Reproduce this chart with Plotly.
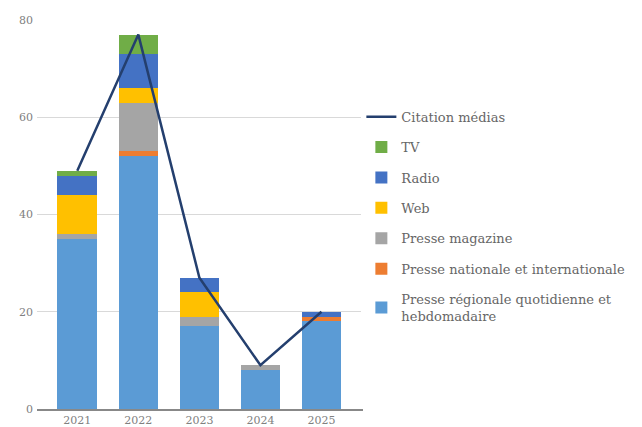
import plotly.graph_objects as go

years = ["2021", "2022", "2023", "2024", "2025"]
presse_regionale = [35, 52, 17, 8, 18]
presse_nationale = [0, 1, 0, 0, 1]
presse_magazine = [1, 10, 2, 1, 0]
web = [8, 3, 5, 0, 0]
radio = [4, 7, 3, 0, 1]
tv = [1, 4, 0, 0, 0]
citation_medias = [49, 77, 27, 9, 20]

series = [
    ("Presse régionale quotidienne et<br>hebdomadaire", presse_regionale, "#5B9BD5"),
    ("Presse nationale et internationale", presse_nationale, "#ED7D31"),
    ("Presse magazine", presse_magazine, "#A5A5A5"),
    ("Web", web, "#FFC000"),
    ("Radio", radio, "#4472C4"),
    ("TV", tv, "#70AD47"),
]

fig = go.Figure()
n = len(series)
for i, (name, vals, col) in enumerate(series):
    fig.add_trace(go.Bar(x=years, y=vals, name=name, marker_color=col,
                         marker_line_width=0, legendgroup=f"g{i}",
                         legendrank=n + 1 - i))
fig.add_trace(go.Scatter(x=years, y=citation_medias, name="Citation médias",
                         mode="lines", line=dict(color="#243F6E", width=2.5),
                         legendgroup="line", legendrank=1))

fig.update_layout(
    width=634, height=419,
    barmode="stack", bargap=0.35,
    paper_bgcolor="white", plot_bgcolor="white",
    margin=dict(l=29, r=276, t=12, b=18),
    font=dict(family="DejaVu Serif", size=11, color="#666666"),
    showlegend=True,
    legend=dict(traceorder="grouped", tracegroupgap=10.5,
                x=0.995, xanchor="left", y=0.79, yanchor="top",
                font=dict(size=13, color="#666666"), itemwidth=30),
    xaxis=dict(type="category", range=[-0.66, 4.68], showgrid=False,
               showline=True, linecolor="#888888", linewidth=1.5,
               ticks="", tickfont=dict(size=11, color="#808080"),
               automargin=False),
    yaxis=dict(range=[0, 80], tickvals=[0, 20, 40, 60, 80], showgrid=True,
               gridcolor="#d9d9d9", gridwidth=1, zeroline=False,
               ticks="", tickfont=dict(size=11, color="#808080"),
               ticklabelstandoff=3, automargin=False),
)

fig.write_html("out.html")
